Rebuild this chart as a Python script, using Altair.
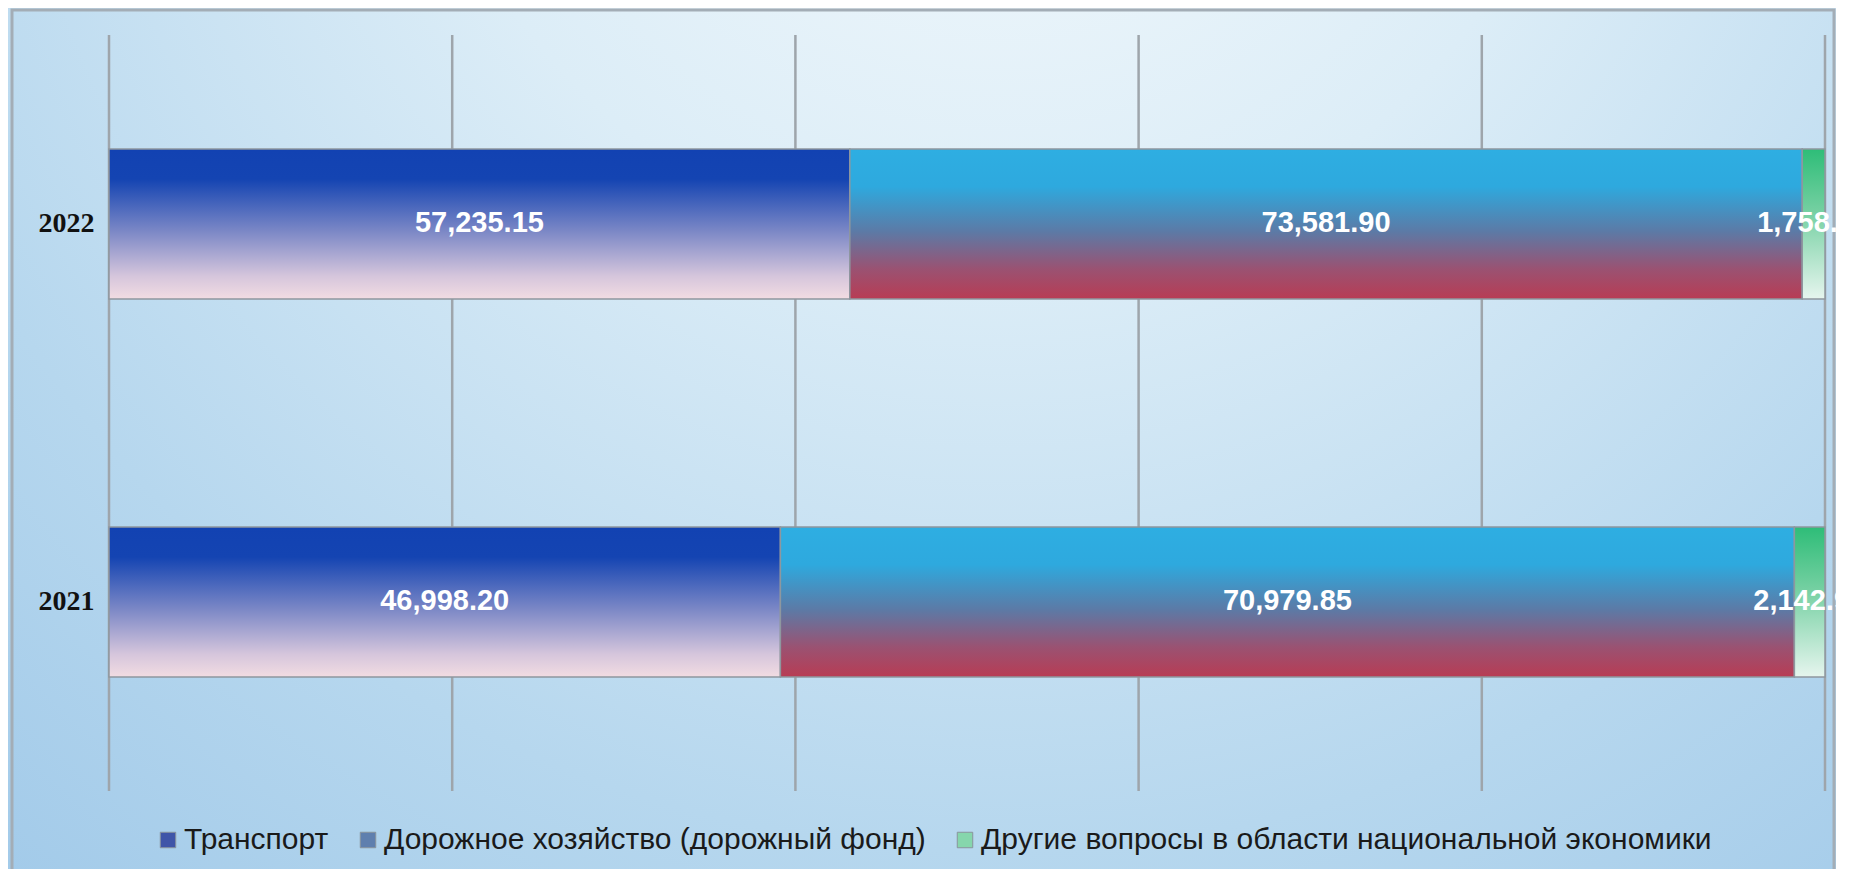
import altair as alt
import pandas as pd

# ---- data ----
years = ["2022", "2021"]
series_names = [
    "Транспорт",
    "Дорожное хозяйство (дорожный фонд)",
    "Другие вопросы в области национальной экономики",
]
transport = [57235.15, 46998.20]
road = [73581.90, 70979.85]
other = [1758.00, 2142.90]
grid_ticks = [0.0, 0.2, 0.4, 0.6, 0.8, 1.0]

rows = []
for i, y in enumerate(years):
    for k, (name, vals) in enumerate(zip(series_names, [transport, road, other])):
        rows.append({"year": y, "series": name, "idx": k, "value": vals[i]})
df = pd.DataFrame(rows)

W, H = 1716, 756
PAD = {"left": 101, "top": 27, "right": 11, "bottom": 78}

legend_colors = ["#3f55a8", "#5f7fae", "#86d6ac"]

grad_transport = {
    "gradient": "linear", "x1": 0, "y1": 0, "x2": 0, "y2": 1,
    "stops": [
        {"offset": 0.0, "color": "#1242b2"},
        {"offset": 0.2, "color": "#1444b2"},
        {"offset": 0.55, "color": "#7c88c6"},
        {"offset": 0.85, "color": "#d6c6dc"},
        {"offset": 1.0, "color": "#f2dce2"},
    ],
}
grad_road = {
    "gradient": "linear", "x1": 0, "y1": 0, "x2": 0, "y2": 1,
    "stops": [
        {"offset": 0.0, "color": "#2eaee2"},
        {"offset": 0.25, "color": "#2ea9de"},
        {"offset": 0.55, "color": "#5c7aa6"},
        {"offset": 0.8, "color": "#9a5272"},
        {"offset": 1.0, "color": "#b83c54"},
    ],
}
grad_other = {
    "gradient": "linear", "x1": 0, "y1": 0, "x2": 0, "y2": 1,
    "stops": [
        {"offset": 0.0, "color": "#2ebd78"},
        {"offset": 0.4, "color": "#72cfa0"},
        {"offset": 1.0, "color": "#e6f5ee"},
    ],
}
grads = [grad_transport, grad_road, grad_other]

bg_grad = {
    "gradient": "radial", "x1": 0.53, "y1": 0.08, "r1": 0,
    "x2": 0.53, "y2": 0.08, "r2": 1.05,
    "stops": [
        {"offset": 0.0, "color": "#f7fbfd"},
        {"offset": 0.3, "color": "#dcedf7"},
        {"offset": 0.6, "color": "#b6d7ee"},
        {"offset": 0.85, "color": "#9dc7e8"},
        {"offset": 1.0, "color": "#8cbce3"},
    ],
}

x_scale = alt.Scale(domain=[0, 1], nice=False, zero=True)
y_scale = alt.Scale(domain=years, paddingInner=0, paddingOuter=0)
x_axis = None
y_axis = alt.Axis(
    title=None, ticks=False, domain=False, grid=False, zindex=2,
    labelFont="Liberation Serif", labelFontSize=28, labelFontWeight="bold",
    labelColor="#111111", labelPadding=15,
)

base = (
    alt.Chart(df)
    .transform_joinaggregate(total="sum(value)", groupby=["year"])
    .transform_window(cum="sum(value)", sort=[alt.SortField("idx")],
                      groupby=["year"], frame=[None, 0])
    .transform_calculate(
        x0="(datum.cum - datum.value) / datum.total",
        x1="datum.cum / datum.total",
        xm="(datum.cum - datum.value / 2) / datum.total",
    )
)

background = alt.Chart(pd.DataFrame({"a": [0]})).mark_rect(
    fill=bg_grad, strokeWidth=0
).encode(
    x=alt.value(-PAD["left"]), x2=alt.value(W + PAD["right"] + 40),
    y=alt.value(-PAD["top"]), y2=alt.value(H + PAD["bottom"] + 40),
)
frame = alt.Chart(pd.DataFrame({"a": [0]})).mark_rect(
    filled=False, stroke="#a3adb6", strokeWidth=3
).encode(
    x=alt.value(-97), x2=alt.value(1725), y=alt.value(-25), y2=alt.value(H + 120),
)

grid = alt.Chart(pd.DataFrame({"t": grid_ticks})).mark_rule(
    color="#9ea5ab", strokeWidth=2.5
).encode(x=alt.X("t:Q", scale=x_scale, axis=x_axis))

legend_bars = base.mark_bar(size=150).encode(
    y=alt.Y("year:N", scale=y_scale, sort=years, axis=y_axis),
    x=alt.X("x0:Q", scale=x_scale, axis=x_axis),
    x2="x1:Q",
    color=alt.Color(
        "series:N",
        scale=alt.Scale(domain=series_names, range=legend_colors),
        legend=alt.Legend(
            title=None, orient="none", direction="horizontal",
            legendX=44, legendY=790, zindex=2,
            symbolType="square", symbolSize=240, symbolStrokeColor="#8a949c",
            symbolStrokeWidth=1, symbolOpacity=1,
            labelFont="Liberation Sans", labelFontSize=30, labelColor="#1a1a1a",
            labelOffset=1, columnPadding=24, labelLimit=0,
        ),
    ),
)

grad_layers = []
for name, g in zip(series_names, grads):
    grad_layers.append(
        base.transform_filter(alt.datum.series == name)
        .mark_bar(size=150, fill=g, stroke="#8e979f", strokeWidth=1.5)
        .encode(
            y=alt.Y("year:N", scale=y_scale, sort=years, axis=y_axis),
            x=alt.X("x0:Q", scale=x_scale, axis=x_axis),
            x2="x1:Q",
        )
    )

labels = base.mark_text(
    color="white", font="Liberation Sans", fontWeight="bold", fontSize=29,
    align="center", baseline="middle", dy=-1,
).encode(
    y=alt.Y("year:N", scale=y_scale, sort=years, axis=y_axis),
    x=alt.X("xm:Q", scale=x_scale, axis=x_axis),
    text=alt.Text("value:Q", format=",.2f"),
)

chart = (
    alt.layer(background, frame, grid, legend_bars, *grad_layers, labels)
    .properties(width=W, height=H, autosize=alt.AutoSizeParams(type="none"), padding=PAD)
    .configure_view(strokeWidth=0)
)

chart.save("out.html", embed_options={"renderer": "svg", "actions": False})
